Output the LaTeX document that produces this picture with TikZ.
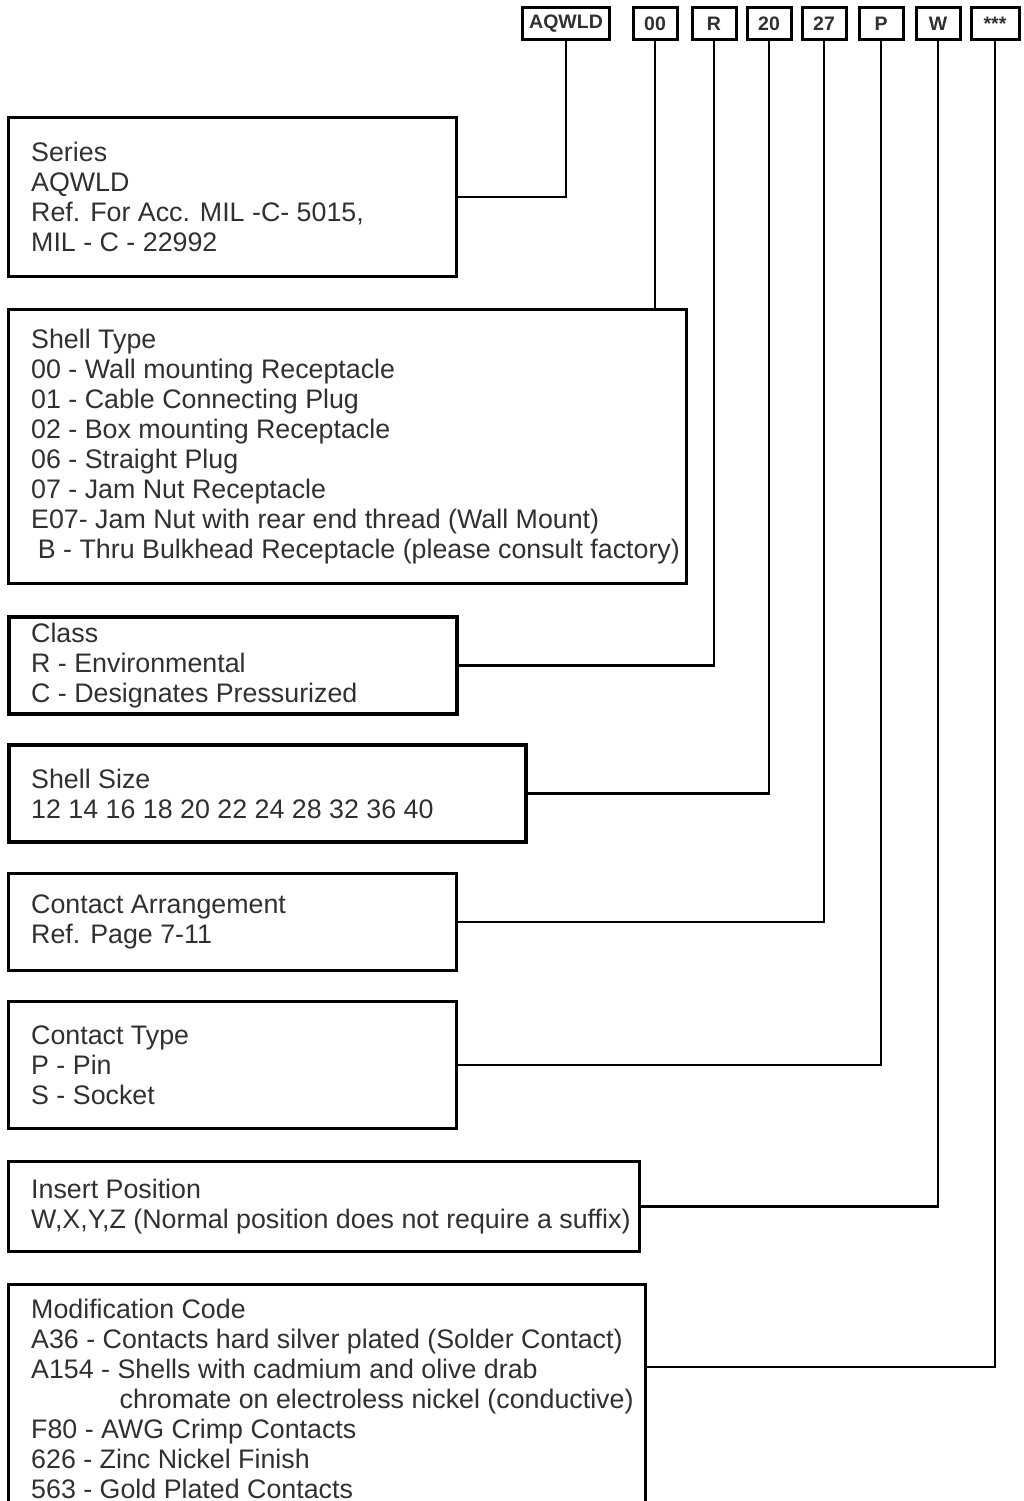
\documentclass[tikz,border=0pt]{standalone}
\usepackage{fontspec}
\setmainfont{Liberation Sans}
\definecolor{textgray}{HTML}{303030}
\begin{document}
\begin{tikzpicture}[x=1pt,y=-1pt,
  box/.style={draw=black, line width=3pt, anchor=north west, inner sep=0pt},
  txt/.style={anchor=west, inner sep=0pt, align=left, text=textgray, font=\fontsize{26.8}{30}\selectfont},
  code/.style={draw=black, line width=3pt, minimum width=44pt, minimum height=32pt, inner sep=0pt, font=\bfseries\fontsize{19.5}{22}\selectfont, text=textgray},
  wire/.style={draw=black, line width=2.5pt}]
\useasboundingbox (0,0) rectangle (1023,1501);

% code boxes
\node[code, minimum width=87pt] (aq) at (566,24) {AQWLD};
\node[code] (c00) at (655,24) {00};
\node[code] (cR) at (714,24) {R};
\node[code] (c20) at (769,24) {20};
\node[code] (c27) at (824,24) {27};
\node[code] (cP) at (881,24) {P};
\node[code] (cW) at (938,24) {W};
\node[code, minimum width=48pt] (cS) at (995,24) {***};

% description boxes
\node[box, minimum width=448pt, minimum height=159pt] (ser) at (7,116) {};
\node[txt] (serT) at ([xshift=24pt]ser.west) {Series\\AQWLD\\Ref. For Acc. MIL -C- 5015,\\MIL - C - 22992};

\node[box, minimum width=678pt, minimum height=274pt] (st) at (7,308) {};
\node[txt] (stT) at ([xshift=24pt]st.west) {Shell Type\\00 - Wall mounting Receptacle\\01 - Cable Connecting Plug\\02 - Box mounting Receptacle\\06 - Straight Plug\\07 - Jam Nut Receptacle\\E07- Jam Nut with rear end thread (Wall Mount)\\\hspace*{0.25em}B - Thru Bulkhead Receptacle (please consult factory)};

\node[box, line width=4pt, minimum width=448pt, minimum height=97pt] (cl) at (7,615) {};
\node[txt] (clT) at ([xshift=24pt]cl.west) {Class\\R - Environmental\\C - Designates Pressurized};

\node[box, line width=4pt, minimum width=517pt, minimum height=97pt] (ss) at (7,743) {};
\node[txt] (ssT) at ([xshift=24pt]ss.west) {Shell Size\\12 14 16 18 20 22 24 28 32 36 40};

\node[box, minimum width=448pt, minimum height=97pt] (ca) at (7,872) {};
\node[txt] (caT) at ([xshift=24pt]ca.west) {Contact Arrangement\\Ref. Page 7-11};

\node[box, minimum width=448pt, minimum height=127pt] (ct) at (7,1000) {};
\node[txt] (ctT) at ([xshift=24pt]ct.west) {Contact Type\\P - Pin\\S - Socket};

\node[box, minimum width=631pt, minimum height=90pt] (ip) at (7,1160) {};
\node[txt] (ipT) at ([xshift=24pt]ip.west) {Insert Position\\W,X,Y,Z (Normal position does not require a suffix)};

\node[box, minimum width=637pt, minimum height=228pt] (mc) at (7,1283) {};
\node[txt] (mcT) at ([xshift=24pt]mc.west) {Modification Code\\A36 - Contacts hard silver plated (Solder Contact)\\A154 - Shells with cadmium and olive drab\\\hspace*{3.3em}chromate on electroless nickel (conductive)\\F80 - AWG Crimp Contacts\\626 - Zinc Nickel Finish\\563 - Gold Plated Contacts};

% connectors
\coordinate (mj) at (644,1367);
\draw[wire] (aq.south) |- (ser.east);
\draw[wire] (c00.south) -- (c00.south |- st.north);
\draw[wire] (cR.south) |- (cl.east);
\draw[wire] (c20.south) |- (ss.east);
\draw[wire] (c27.south) |- (ca.east);
\draw[wire] (cP.south) |- (ct.east);
\draw[wire] (cW.south) |- (ip.east);
\draw[wire] (cS.south) |- (mj);
\end{tikzpicture}
\end{document}
